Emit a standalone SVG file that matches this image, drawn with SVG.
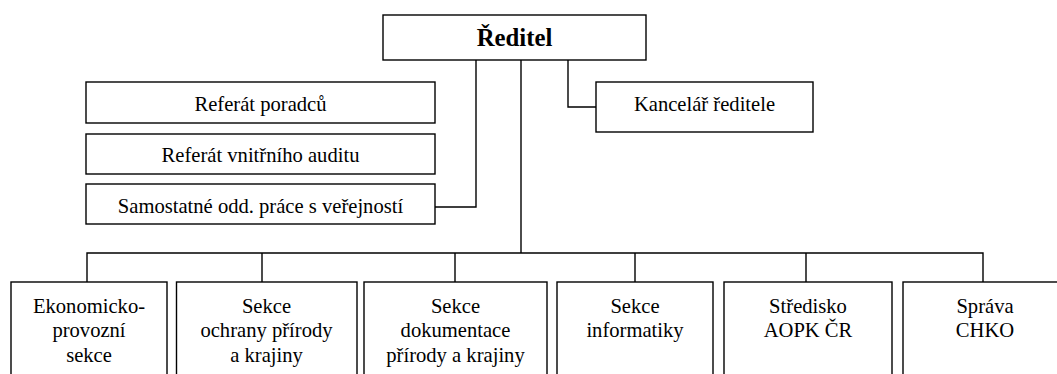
<svg xmlns="http://www.w3.org/2000/svg" width="1057" height="374" viewBox="0 0 1057 374">
<style>
.box{fill:#fff;stroke:#000;stroke-width:1.4}
.ln{fill:none;stroke:#000;stroke-width:1.4}
.t{font-family:'Liberation Serif','Tinos','Nimbus Roman','Times New Roman','Noto Serif','DejaVu Serif',serif;font-size:20.6px;fill:#000;text-anchor:middle}
.b{font-weight:bold;font-size:24.8px}
</style>
<rect width="1057" height="374" fill="#fff"/>
<g id="connectors">
<path class="ln" d="M476 60 V207 H435"/>
<path class="ln" d="M568 60 V107 H596"/>
<path class="ln" d="M521 60 V253"/>
<path class="ln" d="M87 282 V253 H983 V282"/>
<path class="ln" d="M262 253 V282 M455 253 V282 M635 253 V282 M806 253 V282"/>
</g>
<g class="t">
<g id="reditel"><rect class="box" x="383" y="15" width="263" height="45"/><text class="b" x="514.5" y="46">Ředitel</text></g>
<g id="kancelar"><rect class="box" x="596" y="82" width="217" height="50"/><text x="704.5" y="110.7">Kancelář ředitele</text></g>
<g id="referat-poradcu"><rect class="box" x="86" y="82" width="349" height="41"/><text x="260.5" y="110.7">Referát poradců</text></g>
<g id="referat-auditu"><rect class="box" x="86" y="134" width="349" height="40"/><text x="260.5" y="162">Referát vnitřního auditu</text></g>
<g id="samostatne-odd"><rect class="box" x="86" y="184" width="349" height="40"/><text x="260.5" y="212.7">Samostatné odd. práce s veřejností</text></g>
<g id="ekonomicko"><rect class="box" x="11" y="282" width="156" height="100"/><text x="89" y="313">Ekonomicko-</text><text x="89" y="337">provozní</text><text x="89" y="362">sekce</text></g>
<g id="sekce-ochrany"><rect class="box" x="176.5" y="282" width="180.5" height="100"/><text x="266.5" y="313">Sekce</text><text x="266.5" y="337">ochrany přírody</text><text x="266.5" y="362">a krajiny</text></g>
<g id="sekce-dokumentace"><rect class="box" x="364" y="282" width="183" height="100"/><text x="455.5" y="313">Sekce</text><text x="455.5" y="337">dokumentace</text><text x="455.5" y="362">přírody a krajiny</text></g>
<g id="sekce-informatiky"><rect class="box" x="557" y="282" width="156" height="100"/><text x="635" y="313">Sekce</text><text x="635" y="337">informatiky</text></g>
<g id="stredisko"><rect class="box" x="724" y="282" width="168" height="100"/><text x="808" y="313">Středisko</text><text x="808" y="337">AOPK ČR</text></g>
<g id="sprava-chko"><rect class="box" x="903" y="282" width="164" height="100"/><text x="985" y="313">Správa</text><text x="985" y="337">CHKO</text></g>
</g>
</svg>
